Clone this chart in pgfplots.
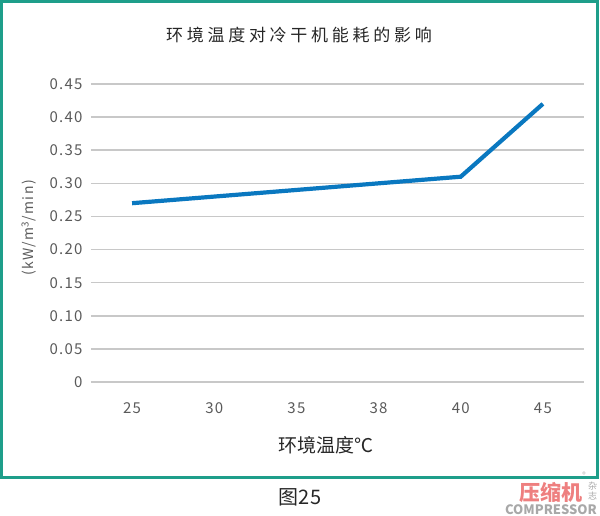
\documentclass[border=0pt]{standalone}
\usepackage{fontspec}
\setmainfont{Noto Sans CJK SC}
\usepackage{pgfplots}
\pgfplotsset{compat=1.18}
\definecolor{framecol}{HTML}{1E9E8A}
\definecolor{lineblue}{HTML}{0A78C0}
\definecolor{gridgray}{HTML}{C8C8C8}
\definecolor{tickgray}{HTML}{5A5A5A}
\definecolor{logored}{HTML}{EE7F7F}
\definecolor{logogray}{HTML}{A8A8A8}
\begin{document}
\begin{tikzpicture}[x=1pt,y=1pt]
\useasboundingbox (0,0) rectangle (600,516);
\draw[framecol, line width=3pt] (1.5,516-1.5) rectangle (597.5,516-477.5);
\node[font=\fontsize{17}{19}\selectfont\addfontfeature{LetterSpace=22}, text=black!85] at (299,516-35.5) {环境温度对冷干机能耗的影响};
\begin{axis}[
  at={(91pt,134pt)}, anchor=south west,
  scale only axis, width=493pt, height=298pt,
  xmin=-0.5, xmax=5.5, ymin=0, ymax=0.45,
  axis line style={draw=none},
  major tick length=0pt,
  ymajorgrids, grid style={color=gridgray, line width=1.6pt},
  xtick={0,1,2,3,4,5},
  xticklabels={25,30,35,38,40,45},
  ytick={0,0.05,0.1,0.15,0.2,0.25,0.3,0.35,0.4,0.45},
  yticklabels={0,0.05,0.10,0.15,0.20,0.25,0.30,0.35,0.40,0.45},
  tick label style={font=\fontsize{15}{17}\selectfont\addfontfeature{LetterSpace=8}, text=tickgray},
  yticklabel style={anchor=east, xshift=-5pt},
  xticklabel style={anchor=center, yshift=-26pt},
  clip=false,
]
\addplot[color=lineblue, line width=4.2pt, mark=none] coordinates {(0,0.27) (1,0.28) (2,0.29) (3,0.30) (4,0.31) (5,0.42)};
\end{axis}
\node[rotate=90, font=\fontsize{14}{16}\selectfont\addfontfeature{LetterSpace=10}, text=tickgray] at (29,516-228) {(kW/m\textsuperscript{3}/min)};
\node[font=\fontsize{19}{21}\selectfont, text=black!85] at (326,516-445) {环境温度℃};
\node[font=\fontsize{20}{22}\selectfont, text=black!85] at (300,516-497) {图25};
\node[font=\fontsize{21}{23}\selectfont\bfseries, text=logored] at (551,516-492) {压缩机};
\node[font=\fontsize{13}{15}\selectfont\bfseries, text=logogray] at (551,516-510) {COMPRESSOR};
\node[font=\fontsize{9}{10}\selectfont, text=logogray, align=center, inner sep=0pt] at (592.5,516-491) {杂\\志};
\node[font=\fontsize{7}{8}\selectfont, text=logogray, inner sep=0pt] at (584,516-475) {®};
\end{tikzpicture}
\end{document}
